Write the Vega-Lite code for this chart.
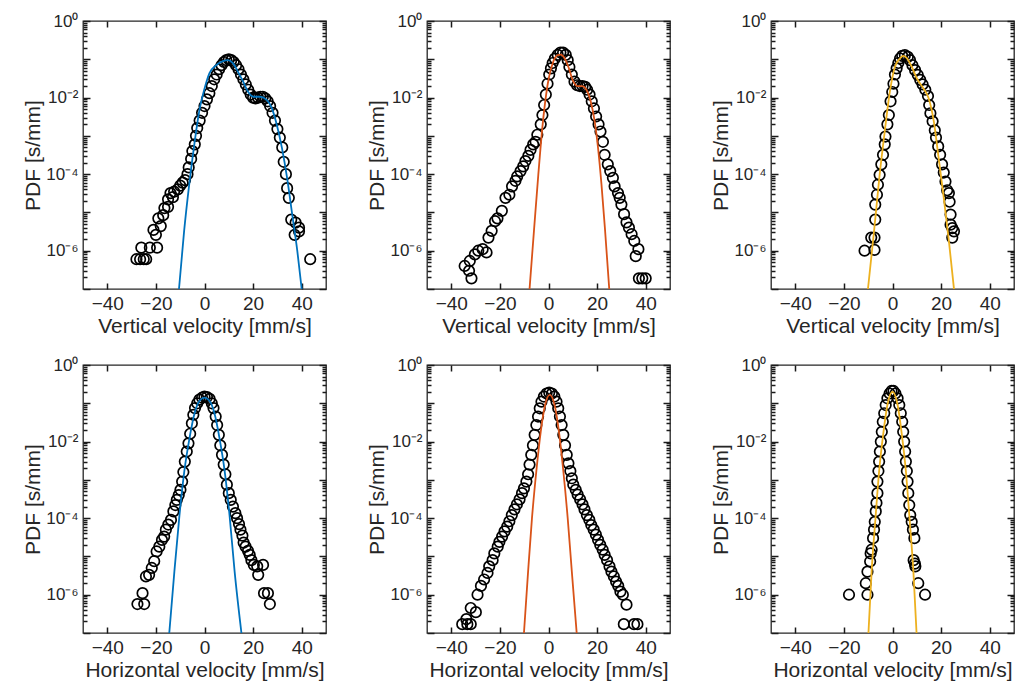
{
"$schema": "https://vega.github.io/schema/vega-lite/v6.json",
"padding": {"left": 22, "top": 11, "right": 3, "bottom": 5},
"config": {
  "font": "Liberation Sans",
  "view": {"stroke": "#262626", "strokeWidth": 1.3},
  "axis": {"labelFont": "Liberation Sans", "titleFont": "Liberation Sans", "labelFontSize": 19, "titleFontSize": 21, "titleFontWeight": "normal", "labelColor": "#262626", "titleColor": "#262626", "ticks": true, "tickColor": "#1a1a1a", "grid": false, "domain": false, "tickWidth": 1.5},
  "axisY": {"labelFontSize": 17}
},
"datasets": {
  "v1pts": [{"v":-28,"pdf":6e-7},{"v":-26.5,"pdf":6e-7},{"v":-25,"pdf":6e-7},{"v":-24,"pdf":6e-7},{"v":-26,"pdf":1.2e-6},{"v":-22.5,"pdf":1.2e-6},{"v":-19.5,"pdf":1.2e-6},{"v":-20,"pdf":2.6e-6},{"v":-21,"pdf":3.5e-6},{"v":-18,"pdf":4.4e-6},{"v":-19,"pdf":7e-6},{"v":-17,"pdf":8.5e-6},{"v":-16.5,"pdf":1.3e-5},{"v":-15,"pdf":1.4e-5},{"v":-15,"pdf":2.2e-5},{"v":-14,"pdf":3.2e-5},{"v":-13,"pdf":2.5e-5},{"v":-12.5,"pdf":3.5e-5},{"v":-11,"pdf":4e-5},{"v":-10,"pdf":5e-5},{"v":-9,"pdf":6e-5},{"v":-8,"pdf":7e-5},{"v":-7,"pdf":1e-4},{"v":-6.5,"pdf":1.5e-4},{"v":-5.5,"pdf":2.5e-4},{"v":-5,"pdf":4e-4},{"v":-4,"pdf":6e-4},{"v":-3.5,"pdf":1e-3},{"v":-3,"pdf":1.6e-3},{"v":-2,"pdf":2.5e-3},{"v":-1,"pdf":4e-3},{"v":0,"pdf":6e-3},{"v":1,"pdf":9e-3},{"v":2,"pdf":0.013},{"v":3,"pdf":0.02},{"v":4,"pdf":0.03},{"v":5,"pdf":0.04},{"v":6,"pdf":0.055},{"v":7,"pdf":0.07},{"v":8,"pdf":0.085},{"v":9,"pdf":0.095},{"v":10,"pdf":0.1},{"v":11,"pdf":0.095},{"v":12,"pdf":0.085},{"v":13,"pdf":0.07},{"v":14,"pdf":0.055},{"v":15,"pdf":0.04},{"v":16,"pdf":0.03},{"v":17,"pdf":0.022},{"v":18,"pdf":0.016},{"v":19,"pdf":0.012},{"v":20,"pdf":0.01},{"v":21,"pdf":0.0095},{"v":22,"pdf":0.01},{"v":23,"pdf":0.0105},{"v":24,"pdf":0.0105},{"v":25,"pdf":0.0095},{"v":26,"pdf":0.008},{"v":27,"pdf":0.006},{"v":28,"pdf":0.004},{"v":29,"pdf":0.0025},{"v":30,"pdf":0.0015},{"v":31,"pdf":9e-4},{"v":32,"pdf":5e-4},{"v":32.6,"pdf":2.1e-4},{"v":33.5,"pdf":1e-4},{"v":34,"pdf":4.3e-5},{"v":34.7,"pdf":2.4e-5},{"v":35.7,"pdf":6.5e-6},{"v":37.5,"pdf":5.4e-6},{"v":38.9,"pdf":4e-6},{"v":37.1,"pdf":2.6e-6},{"v":38.9,"pdf":3.2e-6},{"v":43.5,"pdf":6e-7}],
  "v1fit": [{"v":-10.5,"pdf":1e-7},{"v":-8.4,"pdf":3.2e-6},{"v":-6.3,"pdf":5.3e-5},{"v":-4.2,"pdf":5.9e-4},{"v":-2.2,"pdf":4.3e-3},{"v":0,"pdf":0.017},{"v":2,"pdf":0.043},{"v":4.8,"pdf":0.07},{"v":7.6,"pdf":0.09},{"v":9.7,"pdf":0.095},{"v":11.8,"pdf":0.078},{"v":13.8,"pdf":0.047},{"v":15.9,"pdf":0.026},{"v":18,"pdf":0.014},{"v":20.1,"pdf":0.0105},{"v":22.9,"pdf":0.0105},{"v":25.7,"pdf":0.0086},{"v":27.7,"pdf":0.0053},{"v":29.8,"pdf":0.0019},{"v":31.9,"pdf":4.7e-4},{"v":34,"pdf":7.9e-5},{"v":36.1,"pdf":8.8e-6},{"v":38.2,"pdf":9.8e-7},{"v":40,"pdf":1e-7}],
  "v2pts": [{"v":-34.5,"pdf":4e-7},{"v":-32.7,"pdf":3e-7},{"v":-31.7,"pdf":1.9e-7},{"v":-32.4,"pdf":5.4e-7},{"v":-30.3,"pdf":8e-7},{"v":-28.9,"pdf":1e-6},{"v":-27.1,"pdf":1.1e-6},{"v":-25.5,"pdf":9e-7},{"v":-24.7,"pdf":2.2e-6},{"v":-23.4,"pdf":3.3e-6},{"v":-22,"pdf":5.9e-6},{"v":-21,"pdf":7e-6},{"v":-19.2,"pdf":1.1e-5},{"v":-17.7,"pdf":2.4e-5},{"v":-16.1,"pdf":2.9e-5},{"v":-15,"pdf":4.8e-5},{"v":-13.6,"pdf":6.7e-5},{"v":-12.9,"pdf":8.7e-5},{"v":-11.5,"pdf":1.2e-4},{"v":-10.4,"pdf":1.6e-4},{"v":-9.5,"pdf":2.2e-4},{"v":-8.3,"pdf":3e-4},{"v":-7.4,"pdf":4.3e-4},{"v":-6.3,"pdf":6e-4},{"v":-5.3,"pdf":7e-4},{"v":-4.6,"pdf":1.07e-3},{"v":-3.2,"pdf":2e-3},{"v":-2.5,"pdf":3.5e-3},{"v":-1.8,"pdf":6.4e-3},{"v":-1.1,"pdf":0.012},{"v":-0.4,"pdf":0.023},{"v":0.3,"pdf":0.04},{"v":1,"pdf":0.058},{"v":1.7,"pdf":0.08},{"v":2.6,"pdf":0.104},{"v":3.8,"pdf":0.13},{"v":4.9,"pdf":0.15},{"v":6,"pdf":0.15},{"v":7.1,"pdf":0.13},{"v":7.9,"pdf":0.095},{"v":8.6,"pdf":0.063},{"v":9.6,"pdf":0.04},{"v":10.7,"pdf":0.026},{"v":11.8,"pdf":0.021},{"v":12.9,"pdf":0.02},{"v":14,"pdf":0.02},{"v":15.1,"pdf":0.019},{"v":15.9,"pdf":0.016},{"v":16.9,"pdf":0.012},{"v":17.8,"pdf":0.008},{"v":18.7,"pdf":0.0052},{"v":19.6,"pdf":0.0032},{"v":20.6,"pdf":0.002},{"v":21.4,"pdf":0.0013},{"v":22.4,"pdf":7e-4},{"v":23.1,"pdf":3.2e-4},{"v":24.4,"pdf":1.8e-4},{"v":25.4,"pdf":1.2e-4},{"v":26.5,"pdf":8e-5},{"v":27.2,"pdf":4.8e-5},{"v":28.6,"pdf":3.2e-5},{"v":29.3,"pdf":2.4e-5},{"v":30,"pdf":1.6e-5},{"v":31.1,"pdf":9e-6},{"v":32.1,"pdf":5.5e-6},{"v":33.1,"pdf":4e-6},{"v":34.2,"pdf":2.7e-6},{"v":35.3,"pdf":1.8e-6},{"v":37,"pdf":1.1e-6},{"v":35.9,"pdf":7.2e-7},{"v":37.2,"pdf":1.9e-7},{"v":38.6,"pdf":1.9e-7},{"v":40,"pdf":1.9e-7}],
  "v2fit": [{"v":-7.8,"pdf":1e-7},{"v":-6,"pdf":3.2e-6},{"v":-4.2,"pdf":9.6e-5},{"v":-2.4,"pdf":2e-3},{"v":-0.4,"pdf":0.021},{"v":1.7,"pdf":0.078},{"v":3.8,"pdf":0.128},{"v":5.1,"pdf":0.133},{"v":6.5,"pdf":0.11},{"v":8.2,"pdf":0.063},{"v":10,"pdf":0.028},{"v":11.8,"pdf":0.02},{"v":13.8,"pdf":0.02},{"v":15.6,"pdf":0.016},{"v":17.4,"pdf":0.0078},{"v":19,"pdf":0.0024},{"v":20.4,"pdf":4.8e-4},{"v":21.8,"pdf":5.4e-5},{"v":23.2,"pdf":4e-6},{"v":25,"pdf":1e-7}],
  "v3pts": [{"v":-11.5,"pdf":1e-6},{"v":-8.75,"pdf":2.2e-6},{"v":-7.4,"pdf":2.2e-6},{"v":-7.4,"pdf":1.05e-6},{"v":-7.1,"pdf":6.5e-6},{"v":-7.1,"pdf":1.6e-5},{"v":-6.4,"pdf":2.9e-5},{"v":-6,"pdf":5.3e-5},{"v":-5.3,"pdf":9.6e-5},{"v":-4.6,"pdf":1.8e-4},{"v":-3.9,"pdf":3.2e-4},{"v":-3.2,"pdf":6e-4},{"v":-2.9,"pdf":9.6e-4},{"v":-2.1,"pdf":2e-3},{"v":-1.5,"pdf":3.5e-3},{"v":-0.8,"pdf":8e-3},{"v":-0.1,"pdf":0.014},{"v":0.4,"pdf":0.023},{"v":1,"pdf":0.04},{"v":1.7,"pdf":0.058},{"v":2.4,"pdf":0.08},{"v":3.1,"pdf":0.105},{"v":4,"pdf":0.123},{"v":5.1,"pdf":0.128},{"v":6.3,"pdf":0.116},{"v":7.2,"pdf":0.095},{"v":8.2,"pdf":0.07},{"v":9.3,"pdf":0.052},{"v":10.4,"pdf":0.039},{"v":11.4,"pdf":0.029},{"v":12.4,"pdf":0.022},{"v":13.5,"pdf":0.016},{"v":14.6,"pdf":0.011},{"v":15.1,"pdf":6.4e-3},{"v":15.6,"pdf":3.9e-3},{"v":16.5,"pdf":2.4e-3},{"v":17.4,"pdf":1.4e-3},{"v":17.9,"pdf":9e-4},{"v":18.8,"pdf":5.3e-4},{"v":19.6,"pdf":3.2e-4},{"v":20.4,"pdf":1.8e-4},{"v":21.1,"pdf":1.1e-4},{"v":21.8,"pdf":6.4e-5},{"v":22.5,"pdf":3.8e-5},{"v":23.2,"pdf":3.2e-5},{"v":23.5,"pdf":1.9e-5},{"v":23.9,"pdf":8.8e-6},{"v":23.9,"pdf":4.8e-6},{"v":24.6,"pdf":3.9e-6},{"v":25.3,"pdf":3.2e-6},{"v":24.6,"pdf":2.2e-6}],
  "v3fit": [{"v":-10.1,"pdf":1e-7},{"v":-7.6,"pdf":3.2e-6},{"v":-5.3,"pdf":9.6e-5},{"v":-3.2,"pdf":1.3e-3},{"v":-1.1,"pdf":0.014},{"v":1,"pdf":0.064},{"v":3.1,"pdf":0.105},{"v":4.4,"pdf":0.123},{"v":5.8,"pdf":0.109},{"v":7.9,"pdf":0.064},{"v":10,"pdf":0.032},{"v":12.8,"pdf":0.017},{"v":14.9,"pdf":9.5e-3},{"v":17,"pdf":2.4e-3},{"v":19,"pdf":2.6e-4},{"v":21.1,"pdf":2.4e-5},{"v":23.2,"pdf":1.8e-6},{"v":25.3,"pdf":1e-7}],
  "h1pts": [{"v":-27.6,"pdf":5.7e-7},{"v":-24.8,"pdf":5.7e-7},{"v":-25.5,"pdf":1.1e-6},{"v":-24.1,"pdf":3e-6},{"v":-22.8,"pdf":3.3e-6},{"v":-21.7,"pdf":5e-6},{"v":-20.7,"pdf":7.5e-6},{"v":-19.7,"pdf":1.35e-5},{"v":-18.6,"pdf":1.8e-5},{"v":-17.5,"pdf":2.7e-5},{"v":-16.6,"pdf":3.3e-5},{"v":-15.9,"pdf":5e-5},{"v":-14.9,"pdf":6.8e-5},{"v":-13.8,"pdf":9e-5},{"v":-12.8,"pdf":1.5e-4},{"v":-12,"pdf":2.2e-4},{"v":-11.4,"pdf":3e-4},{"v":-10.6,"pdf":4e-4},{"v":-9.9,"pdf":5.5e-4},{"v":-9.2,"pdf":9e-4},{"v":-8.7,"pdf":1.6e-3},{"v":-8.1,"pdf":3e-3},{"v":-7.3,"pdf":5.5e-3},{"v":-6.6,"pdf":9e-3},{"v":-5.9,"pdf":0.016},{"v":-5.2,"pdf":0.03},{"v":-4.6,"pdf":0.05},{"v":-3.9,"pdf":0.075},{"v":-3,"pdf":0.1},{"v":-2.1,"pdf":0.125},{"v":-1,"pdf":0.14},{"v":0,"pdf":0.15},{"v":1,"pdf":0.145},{"v":2.1,"pdf":0.13},{"v":3,"pdf":0.1},{"v":3.7,"pdf":0.075},{"v":4.6,"pdf":0.045},{"v":5.2,"pdf":0.027},{"v":5.9,"pdf":0.015},{"v":6.5,"pdf":0.008},{"v":7.2,"pdf":0.0045},{"v":7.9,"pdf":0.0025},{"v":8.6,"pdf":1.4e-3},{"v":9.2,"pdf":7.5e-4},{"v":10,"pdf":4.5e-4},{"v":10.8,"pdf":3e-4},{"v":11.7,"pdf":2e-4},{"v":12.7,"pdf":1.35e-4},{"v":13.4,"pdf":1e-4},{"v":14.2,"pdf":7e-5},{"v":14.8,"pdf":5e-5},{"v":15.6,"pdf":3.5e-5},{"v":16.1,"pdf":2.3e-5},{"v":16.9,"pdf":1.8e-5},{"v":17.9,"pdf":1.4e-5},{"v":18.6,"pdf":1.1e-5},{"v":19.3,"pdf":8e-6},{"v":20.3,"pdf":6e-6},{"v":21.7,"pdf":5.5e-6},{"v":22.1,"pdf":3.3e-6},{"v":24.1,"pdf":6e-6},{"v":24.5,"pdf":1.1e-6},{"v":26.1,"pdf":1.1e-6},{"v":26.9,"pdf":5.7e-7}],
  "h1fit": [{"v":-14.5,"pdf":1e-7},{"v":-12.4,"pdf":4e-6},{"v":-10.3,"pdf":1.2e-4},{"v":-8.3,"pdf":1.7e-3},{"v":-6.2,"pdf":0.012},{"v":-4.1,"pdf":0.055},{"v":-2.1,"pdf":0.115},{"v":0,"pdf":0.14},{"v":2.1,"pdf":0.115},{"v":4.1,"pdf":0.055},{"v":6.2,"pdf":0.012},{"v":8.3,"pdf":1.7e-3},{"v":10.3,"pdf":1.2e-4},{"v":12.4,"pdf":4e-6},{"v":15.2,"pdf":1e-7}],
  "h2pts": [{"v":-35.5,"pdf":1.7e-7},{"v":-33.4,"pdf":1.7e-7},{"v":-32,"pdf":1.7e-7},{"v":-33.8,"pdf":2.3e-7},{"v":-32,"pdf":4.5e-7},{"v":-29.9,"pdf":3.5e-7},{"v":-29.2,"pdf":1e-6},{"v":-27.8,"pdf":1.7e-6},{"v":-26.5,"pdf":2.5e-6},{"v":-25.1,"pdf":3.7e-6},{"v":-24.4,"pdf":5.5e-6},{"v":-23,"pdf":8e-6},{"v":-22.3,"pdf":1.2e-5},{"v":-20.9,"pdf":1.8e-5},{"v":-20.2,"pdf":2.4e-5},{"v":-19.1,"pdf":3.3e-5},{"v":-18.1,"pdf":4.5e-5},{"v":-17,"pdf":6e-5},{"v":-16.1,"pdf":8.3e-5},{"v":-15.1,"pdf":1.2e-4},{"v":-14,"pdf":1.7e-4},{"v":-13,"pdf":2.3e-4},{"v":-11.9,"pdf":3.1e-4},{"v":-10.9,"pdf":4.5e-4},{"v":-10.1,"pdf":6e-4},{"v":-9.1,"pdf":9e-4},{"v":-8.4,"pdf":1.4e-3},{"v":-7.8,"pdf":2.5e-3},{"v":-7.1,"pdf":4.5e-3},{"v":-6.4,"pdf":8e-3},{"v":-5.7,"pdf":0.015},{"v":-5,"pdf":0.027},{"v":-4.3,"pdf":0.045},{"v":-3.6,"pdf":0.074},{"v":-2.9,"pdf":0.11},{"v":-1.9,"pdf":0.15},{"v":-0.8,"pdf":0.18},{"v":0.3,"pdf":0.19},{"v":1.4,"pdf":0.18},{"v":2.4,"pdf":0.15},{"v":3.3,"pdf":0.11},{"v":4,"pdf":0.074},{"v":4.7,"pdf":0.045},{"v":5.4,"pdf":0.027},{"v":6.1,"pdf":0.015},{"v":6.8,"pdf":8e-3},{"v":7.5,"pdf":4.5e-3},{"v":8.2,"pdf":2.7e-3},{"v":9,"pdf":1.7e-3},{"v":9.6,"pdf":1.1e-3},{"v":10.2,"pdf":7.5e-4},{"v":11.2,"pdf":5.5e-4},{"v":12,"pdf":4.1e-4},{"v":13,"pdf":3.1e-4},{"v":14,"pdf":2.3e-4},{"v":14.8,"pdf":1.7e-4},{"v":15.8,"pdf":1.2e-4},{"v":16.8,"pdf":9e-5},{"v":17.6,"pdf":6.6e-5},{"v":18.6,"pdf":5e-5},{"v":19.5,"pdf":3.7e-5},{"v":20.4,"pdf":2.7e-5},{"v":21.3,"pdf":2e-5},{"v":22.3,"pdf":1.5e-5},{"v":23.1,"pdf":1.1e-5},{"v":24.1,"pdf":8e-6},{"v":25.1,"pdf":5.5e-6},{"v":25.9,"pdf":4e-6},{"v":26.9,"pdf":3e-6},{"v":27.8,"pdf":2.2e-6},{"v":28.7,"pdf":1.7e-6},{"v":29.6,"pdf":1.2e-6},{"v":30.6,"pdf":1e-6},{"v":32.1,"pdf":5.5e-7},{"v":31,"pdf":1.7e-7},{"v":35.2,"pdf":1.7e-7},{"v":36.6,"pdf":1.7e-7}],
  "h2fit": [{"v":-10.1,"pdf":1e-7},{"v":-8.4,"pdf":4e-6},{"v":-6.8,"pdf":1e-4},{"v":-5,"pdf":1.7e-3},{"v":-3.2,"pdf":0.018},{"v":-1.4,"pdf":0.09},{"v":0.5,"pdf":0.165},{"v":2.5,"pdf":0.09},{"v":4.3,"pdf":0.018},{"v":6.1,"pdf":1.7e-3},{"v":7.9,"pdf":1e-4},{"v":9.6,"pdf":4e-6},{"v":11.6,"pdf":1e-7}],
  "h3pts": [{"v":-17.9,"pdf":1e-6},{"v":-11,"pdf":2e-6},{"v":-10.3,"pdf":1e-6},{"v":-10.3,"pdf":4e-6},{"v":-9.2,"pdf":7.4e-6},{"v":-9,"pdf":1.2e-5},{"v":-8.6,"pdf":1.5e-5},{"v":-8,"pdf":3e-5},{"v":-7.6,"pdf":5e-5},{"v":-7.3,"pdf":8e-5},{"v":-6.9,"pdf":1.5e-4},{"v":-6.6,"pdf":2.5e-4},{"v":-6.2,"pdf":4.5e-4},{"v":-6.2,"pdf":9e-4},{"v":-5.8,"pdf":1.7e-3},{"v":-5.5,"pdf":3e-3},{"v":-5.2,"pdf":5.5e-3},{"v":-4.8,"pdf":0.01},{"v":-4.4,"pdf":0.018},{"v":-4,"pdf":0.033},{"v":-3.4,"pdf":0.055},{"v":-2.8,"pdf":0.09},{"v":-2.1,"pdf":0.135},{"v":-1.2,"pdf":0.18},{"v":-0.4,"pdf":0.21},{"v":0.4,"pdf":0.21},{"v":1.2,"pdf":0.18},{"v":2.1,"pdf":0.135},{"v":2.8,"pdf":0.09},{"v":3.4,"pdf":0.055},{"v":4,"pdf":0.033},{"v":4.4,"pdf":0.018},{"v":4.8,"pdf":0.01},{"v":5.2,"pdf":5.5e-3},{"v":5.5,"pdf":3e-3},{"v":5.9,"pdf":1.7e-3},{"v":6.2,"pdf":9e-4},{"v":6.5,"pdf":4.5e-4},{"v":6.9,"pdf":2.2e-4},{"v":7.3,"pdf":1.2e-4},{"v":7.9,"pdf":8e-5},{"v":8.4,"pdf":5e-5},{"v":9,"pdf":3e-5},{"v":8.7,"pdf":8e-6},{"v":9.2,"pdf":6.5e-6},{"v":9.4,"pdf":5.5e-6},{"v":10.6,"pdf":2e-6},{"v":13.4,"pdf":1e-6}],
  "h3fit": [{"v":-9.9,"pdf":1e-7},{"v":-8.6,"pdf":4e-6},{"v":-7,"pdf":1e-4},{"v":-5.5,"pdf":1.7e-3},{"v":-3.7,"pdf":0.018},{"v":-2.1,"pdf":0.09},{"v":0,"pdf":0.2},{"v":2.1,"pdf":0.09},{"v":3.7,"pdf":0.018},{"v":5.5,"pdf":1.7e-3},{"v":7,"pdf":1e-4},{"v":8.6,"pdf":4e-6},{"v":9.9,"pdf":1e-7}]
},
"spacing": 18,
"vconcat": [
 {"spacing": 38, "hconcat": [
  {"width": 243, "height": 268, "resolve": {"axis": {"x": "independent", "y": "independent"}}, "layer": [
   {"data": {"name": "v1pts"}, "mark": {"type": "point", "shape": "circle", "filled": false, "stroke": "#000000", "strokeWidth": 1.7, "size": 110, "opacity": 1, "clip": true},
    "encoding": {"x": {"field": "v", "type": "quantitative", "scale": {"domain": [-50, 50], "nice": false, "zero": false}, "axis": {"orient": "bottom", "values": [-40, -20, 0, 20, 40], "tickSize": -6, "labelPadding": 11, "title": "Vertical velocity [mm/s]", "titlePadding": 2}},
     "y": {"field": "pdf", "type": "quantitative", "scale": {"type": "log", "domain": [1e-7, 1], "nice": false}, "axis": {"orient": "left", "values": [1e-7,1e-6,1e-5,1e-4,0.001,0.01,0.1,1], "tickSize": -7, "labelExpr": "datum.value == 1 ? '10⁰' : datum.value == 0.01 ? '10⁻²' : datum.value == 0.0001 ? '10⁻⁴' : datum.value == 0.000001 ? '10⁻⁶' : ''", "labelOverlap": false, "labelPadding": 12, "title": "PDF [s/mm]", "titlePadding": 2}}}},
   {"data": {"name": "v1fit"}, "mark": {"type": "line", "color": "#0072BD", "strokeWidth": 1.8, "interpolate": "monotone", "clip": true},
    "encoding": {"x": {"field": "v", "type": "quantitative", "axis": {"orient": "top", "values": [-40, -20, 0, 20, 40], "tickSize": -6, "labels": false, "title": null}},
     "y": {"field": "pdf", "type": "quantitative", "axis": {"orient": "right", "values": [1e-7,1e-6,1e-5,1e-4,0.001,0.01,0.1,1], "tickSize": -7, "labels": false, "title": null}}}},
   {"data": {"name": "v1fit"}, "mark": {"type": "line", "opacity": 0, "clip": true},
    "encoding": {"x": {"field": "v", "type": "quantitative", "axis": null},
     "y": {"field": "pdf", "type": "quantitative", "axis": {"orient": "left", "values": [2e-7,3e-7,4e-7,5e-7,6e-7,7e-7,8e-7,9e-7,2e-6,3e-6,4e-6,5e-6,6e-6,7e-6,8e-6,9e-6,2e-5,3e-5,4e-5,5e-5,6e-5,7e-5,8e-5,9e-5,2e-4,3e-4,4e-4,5e-4,6e-4,7e-4,8e-4,9e-4,0.002,0.003,0.004,0.005,0.006,0.007,0.008,0.009,0.02,0.03,0.04,0.05,0.06,0.07,0.08,0.09,0.2,0.3,0.4,0.5,0.6,0.7,0.8,0.9], "tickSize": -4, "labels": false, "title": null}}}},
   {"data": {"name": "v1fit"}, "mark": {"type": "line", "opacity": 0, "clip": true},
    "encoding": {"x": {"field": "v", "type": "quantitative", "axis": null},
     "y": {"field": "pdf", "type": "quantitative", "axis": {"orient": "right", "values": [2e-7,3e-7,4e-7,5e-7,6e-7,7e-7,8e-7,9e-7,2e-6,3e-6,4e-6,5e-6,6e-6,7e-6,8e-6,9e-6,2e-5,3e-5,4e-5,5e-5,6e-5,7e-5,8e-5,9e-5,2e-4,3e-4,4e-4,5e-4,6e-4,7e-4,8e-4,9e-4,0.002,0.003,0.004,0.005,0.006,0.007,0.008,0.009,0.02,0.03,0.04,0.05,0.06,0.07,0.08,0.09,0.2,0.3,0.4,0.5,0.6,0.7,0.8,0.9], "tickSize": -4, "labels": false, "title": null}}}}
  ]},
  {"width": 243, "height": 268, "resolve": {"axis": {"x": "independent", "y": "independent"}}, "layer": [
   {"data": {"name": "v2pts"}, "mark": {"type": "point", "shape": "circle", "filled": false, "stroke": "#000000", "strokeWidth": 1.7, "size": 110, "opacity": 1, "clip": true},
    "encoding": {"x": {"field": "v", "type": "quantitative", "scale": {"domain": [-50, 50], "nice": false, "zero": false}, "axis": {"orient": "bottom", "values": [-40, -20, 0, 20, 40], "tickSize": -6, "labelPadding": 11, "title": "Vertical velocity [mm/s]", "titlePadding": 2}},
     "y": {"field": "pdf", "type": "quantitative", "scale": {"type": "log", "domain": [1e-7, 1], "nice": false}, "axis": {"orient": "left", "values": [1e-7,1e-6,1e-5,1e-4,0.001,0.01,0.1,1], "tickSize": -7, "labelExpr": "datum.value == 1 ? '10⁰' : datum.value == 0.01 ? '10⁻²' : datum.value == 0.0001 ? '10⁻⁴' : datum.value == 0.000001 ? '10⁻⁶' : ''", "labelOverlap": false, "labelPadding": 12, "title": "PDF [s/mm]", "titlePadding": 2}}}},
   {"data": {"name": "v2fit"}, "mark": {"type": "line", "color": "#D95319", "strokeWidth": 1.8, "interpolate": "monotone", "clip": true},
    "encoding": {"x": {"field": "v", "type": "quantitative", "axis": {"orient": "top", "values": [-40, -20, 0, 20, 40], "tickSize": -6, "labels": false, "title": null}},
     "y": {"field": "pdf", "type": "quantitative", "axis": {"orient": "right", "values": [1e-7,1e-6,1e-5,1e-4,0.001,0.01,0.1,1], "tickSize": -7, "labels": false, "title": null}}}},
   {"data": {"name": "v2fit"}, "mark": {"type": "line", "opacity": 0, "clip": true},
    "encoding": {"x": {"field": "v", "type": "quantitative", "axis": null},
     "y": {"field": "pdf", "type": "quantitative", "axis": {"orient": "left", "values": [2e-7,3e-7,4e-7,5e-7,6e-7,7e-7,8e-7,9e-7,2e-6,3e-6,4e-6,5e-6,6e-6,7e-6,8e-6,9e-6,2e-5,3e-5,4e-5,5e-5,6e-5,7e-5,8e-5,9e-5,2e-4,3e-4,4e-4,5e-4,6e-4,7e-4,8e-4,9e-4,0.002,0.003,0.004,0.005,0.006,0.007,0.008,0.009,0.02,0.03,0.04,0.05,0.06,0.07,0.08,0.09,0.2,0.3,0.4,0.5,0.6,0.7,0.8,0.9], "tickSize": -4, "labels": false, "title": null}}}},
   {"data": {"name": "v2fit"}, "mark": {"type": "line", "opacity": 0, "clip": true},
    "encoding": {"x": {"field": "v", "type": "quantitative", "axis": null},
     "y": {"field": "pdf", "type": "quantitative", "axis": {"orient": "right", "values": [2e-7,3e-7,4e-7,5e-7,6e-7,7e-7,8e-7,9e-7,2e-6,3e-6,4e-6,5e-6,6e-6,7e-6,8e-6,9e-6,2e-5,3e-5,4e-5,5e-5,6e-5,7e-5,8e-5,9e-5,2e-4,3e-4,4e-4,5e-4,6e-4,7e-4,8e-4,9e-4,0.002,0.003,0.004,0.005,0.006,0.007,0.008,0.009,0.02,0.03,0.04,0.05,0.06,0.07,0.08,0.09,0.2,0.3,0.4,0.5,0.6,0.7,0.8,0.9], "tickSize": -4, "labels": false, "title": null}}}}
  ]},
  {"width": 243, "height": 268, "resolve": {"axis": {"x": "independent", "y": "independent"}}, "layer": [
   {"data": {"name": "v3pts"}, "mark": {"type": "point", "shape": "circle", "filled": false, "stroke": "#000000", "strokeWidth": 1.7, "size": 110, "opacity": 1, "clip": true},
    "encoding": {"x": {"field": "v", "type": "quantitative", "scale": {"domain": [-50, 50], "nice": false, "zero": false}, "axis": {"orient": "bottom", "values": [-40, -20, 0, 20, 40], "tickSize": -6, "labelPadding": 11, "title": "Vertical velocity [mm/s]", "titlePadding": 2}},
     "y": {"field": "pdf", "type": "quantitative", "scale": {"type": "log", "domain": [1e-7, 1], "nice": false}, "axis": {"orient": "left", "values": [1e-7,1e-6,1e-5,1e-4,0.001,0.01,0.1,1], "tickSize": -7, "labelExpr": "datum.value == 1 ? '10⁰' : datum.value == 0.01 ? '10⁻²' : datum.value == 0.0001 ? '10⁻⁴' : datum.value == 0.000001 ? '10⁻⁶' : ''", "labelOverlap": false, "labelPadding": 12, "title": "PDF [s/mm]", "titlePadding": 2}}}},
   {"data": {"name": "v3fit"}, "mark": {"type": "line", "color": "#EDB120", "strokeWidth": 1.8, "interpolate": "monotone", "clip": true},
    "encoding": {"x": {"field": "v", "type": "quantitative", "axis": {"orient": "top", "values": [-40, -20, 0, 20, 40], "tickSize": -6, "labels": false, "title": null}},
     "y": {"field": "pdf", "type": "quantitative", "axis": {"orient": "right", "values": [1e-7,1e-6,1e-5,1e-4,0.001,0.01,0.1,1], "tickSize": -7, "labels": false, "title": null}}}},
   {"data": {"name": "v3fit"}, "mark": {"type": "line", "opacity": 0, "clip": true},
    "encoding": {"x": {"field": "v", "type": "quantitative", "axis": null},
     "y": {"field": "pdf", "type": "quantitative", "axis": {"orient": "left", "values": [2e-7,3e-7,4e-7,5e-7,6e-7,7e-7,8e-7,9e-7,2e-6,3e-6,4e-6,5e-6,6e-6,7e-6,8e-6,9e-6,2e-5,3e-5,4e-5,5e-5,6e-5,7e-5,8e-5,9e-5,2e-4,3e-4,4e-4,5e-4,6e-4,7e-4,8e-4,9e-4,0.002,0.003,0.004,0.005,0.006,0.007,0.008,0.009,0.02,0.03,0.04,0.05,0.06,0.07,0.08,0.09,0.2,0.3,0.4,0.5,0.6,0.7,0.8,0.9], "tickSize": -4, "labels": false, "title": null}}}},
   {"data": {"name": "v3fit"}, "mark": {"type": "line", "opacity": 0, "clip": true},
    "encoding": {"x": {"field": "v", "type": "quantitative", "axis": null},
     "y": {"field": "pdf", "type": "quantitative", "axis": {"orient": "right", "values": [2e-7,3e-7,4e-7,5e-7,6e-7,7e-7,8e-7,9e-7,2e-6,3e-6,4e-6,5e-6,6e-6,7e-6,8e-6,9e-6,2e-5,3e-5,4e-5,5e-5,6e-5,7e-5,8e-5,9e-5,2e-4,3e-4,4e-4,5e-4,6e-4,7e-4,8e-4,9e-4,0.002,0.003,0.004,0.005,0.006,0.007,0.008,0.009,0.02,0.03,0.04,0.05,0.06,0.07,0.08,0.09,0.2,0.3,0.4,0.5,0.6,0.7,0.8,0.9], "tickSize": -4, "labels": false, "title": null}}}}
  ]}
 ]},
 {"spacing": 38, "hconcat": [
  {"width": 243, "height": 268, "resolve": {"axis": {"x": "independent", "y": "independent"}}, "layer": [
   {"data": {"name": "h1pts"}, "mark": {"type": "point", "shape": "circle", "filled": false, "stroke": "#000000", "strokeWidth": 1.7, "size": 110, "opacity": 1, "clip": true},
    "encoding": {"x": {"field": "v", "type": "quantitative", "scale": {"domain": [-50, 50], "nice": false, "zero": false}, "axis": {"orient": "bottom", "values": [-40, -20, 0, 20, 40], "tickSize": -6, "labelPadding": 11, "title": "Horizontal velocity [mm/s]", "titlePadding": 2}},
     "y": {"field": "pdf", "type": "quantitative", "scale": {"type": "log", "domain": [1e-7, 1], "nice": false}, "axis": {"orient": "left", "values": [1e-7,1e-6,1e-5,1e-4,0.001,0.01,0.1,1], "tickSize": -7, "labelExpr": "datum.value == 1 ? '10⁰' : datum.value == 0.01 ? '10⁻²' : datum.value == 0.0001 ? '10⁻⁴' : datum.value == 0.000001 ? '10⁻⁶' : ''", "labelOverlap": false, "labelPadding": 12, "title": "PDF [s/mm]", "titlePadding": 2}}}},
   {"data": {"name": "h1fit"}, "mark": {"type": "line", "color": "#0072BD", "strokeWidth": 1.8, "interpolate": "monotone", "clip": true},
    "encoding": {"x": {"field": "v", "type": "quantitative", "axis": {"orient": "top", "values": [-40, -20, 0, 20, 40], "tickSize": -6, "labels": false, "title": null}},
     "y": {"field": "pdf", "type": "quantitative", "axis": {"orient": "right", "values": [1e-7,1e-6,1e-5,1e-4,0.001,0.01,0.1,1], "tickSize": -7, "labels": false, "title": null}}}},
   {"data": {"name": "h1fit"}, "mark": {"type": "line", "opacity": 0, "clip": true},
    "encoding": {"x": {"field": "v", "type": "quantitative", "axis": null},
     "y": {"field": "pdf", "type": "quantitative", "axis": {"orient": "left", "values": [2e-7,3e-7,4e-7,5e-7,6e-7,7e-7,8e-7,9e-7,2e-6,3e-6,4e-6,5e-6,6e-6,7e-6,8e-6,9e-6,2e-5,3e-5,4e-5,5e-5,6e-5,7e-5,8e-5,9e-5,2e-4,3e-4,4e-4,5e-4,6e-4,7e-4,8e-4,9e-4,0.002,0.003,0.004,0.005,0.006,0.007,0.008,0.009,0.02,0.03,0.04,0.05,0.06,0.07,0.08,0.09,0.2,0.3,0.4,0.5,0.6,0.7,0.8,0.9], "tickSize": -4, "labels": false, "title": null}}}},
   {"data": {"name": "h1fit"}, "mark": {"type": "line", "opacity": 0, "clip": true},
    "encoding": {"x": {"field": "v", "type": "quantitative", "axis": null},
     "y": {"field": "pdf", "type": "quantitative", "axis": {"orient": "right", "values": [2e-7,3e-7,4e-7,5e-7,6e-7,7e-7,8e-7,9e-7,2e-6,3e-6,4e-6,5e-6,6e-6,7e-6,8e-6,9e-6,2e-5,3e-5,4e-5,5e-5,6e-5,7e-5,8e-5,9e-5,2e-4,3e-4,4e-4,5e-4,6e-4,7e-4,8e-4,9e-4,0.002,0.003,0.004,0.005,0.006,0.007,0.008,0.009,0.02,0.03,0.04,0.05,0.06,0.07,0.08,0.09,0.2,0.3,0.4,0.5,0.6,0.7,0.8,0.9], "tickSize": -4, "labels": false, "title": null}}}}
  ]},
  {"width": 243, "height": 268, "resolve": {"axis": {"x": "independent", "y": "independent"}}, "layer": [
   {"data": {"name": "h2pts"}, "mark": {"type": "point", "shape": "circle", "filled": false, "stroke": "#000000", "strokeWidth": 1.7, "size": 110, "opacity": 1, "clip": true},
    "encoding": {"x": {"field": "v", "type": "quantitative", "scale": {"domain": [-50, 50], "nice": false, "zero": false}, "axis": {"orient": "bottom", "values": [-40, -20, 0, 20, 40], "tickSize": -6, "labelPadding": 11, "title": "Horizontal velocity [mm/s]", "titlePadding": 2}},
     "y": {"field": "pdf", "type": "quantitative", "scale": {"type": "log", "domain": [1e-7, 1], "nice": false}, "axis": {"orient": "left", "values": [1e-7,1e-6,1e-5,1e-4,0.001,0.01,0.1,1], "tickSize": -7, "labelExpr": "datum.value == 1 ? '10⁰' : datum.value == 0.01 ? '10⁻²' : datum.value == 0.0001 ? '10⁻⁴' : datum.value == 0.000001 ? '10⁻⁶' : ''", "labelOverlap": false, "labelPadding": 12, "title": "PDF [s/mm]", "titlePadding": 2}}}},
   {"data": {"name": "h2fit"}, "mark": {"type": "line", "color": "#D95319", "strokeWidth": 1.8, "interpolate": "monotone", "clip": true},
    "encoding": {"x": {"field": "v", "type": "quantitative", "axis": {"orient": "top", "values": [-40, -20, 0, 20, 40], "tickSize": -6, "labels": false, "title": null}},
     "y": {"field": "pdf", "type": "quantitative", "axis": {"orient": "right", "values": [1e-7,1e-6,1e-5,1e-4,0.001,0.01,0.1,1], "tickSize": -7, "labels": false, "title": null}}}},
   {"data": {"name": "h2fit"}, "mark": {"type": "line", "opacity": 0, "clip": true},
    "encoding": {"x": {"field": "v", "type": "quantitative", "axis": null},
     "y": {"field": "pdf", "type": "quantitative", "axis": {"orient": "left", "values": [2e-7,3e-7,4e-7,5e-7,6e-7,7e-7,8e-7,9e-7,2e-6,3e-6,4e-6,5e-6,6e-6,7e-6,8e-6,9e-6,2e-5,3e-5,4e-5,5e-5,6e-5,7e-5,8e-5,9e-5,2e-4,3e-4,4e-4,5e-4,6e-4,7e-4,8e-4,9e-4,0.002,0.003,0.004,0.005,0.006,0.007,0.008,0.009,0.02,0.03,0.04,0.05,0.06,0.07,0.08,0.09,0.2,0.3,0.4,0.5,0.6,0.7,0.8,0.9], "tickSize": -4, "labels": false, "title": null}}}},
   {"data": {"name": "h2fit"}, "mark": {"type": "line", "opacity": 0, "clip": true},
    "encoding": {"x": {"field": "v", "type": "quantitative", "axis": null},
     "y": {"field": "pdf", "type": "quantitative", "axis": {"orient": "right", "values": [2e-7,3e-7,4e-7,5e-7,6e-7,7e-7,8e-7,9e-7,2e-6,3e-6,4e-6,5e-6,6e-6,7e-6,8e-6,9e-6,2e-5,3e-5,4e-5,5e-5,6e-5,7e-5,8e-5,9e-5,2e-4,3e-4,4e-4,5e-4,6e-4,7e-4,8e-4,9e-4,0.002,0.003,0.004,0.005,0.006,0.007,0.008,0.009,0.02,0.03,0.04,0.05,0.06,0.07,0.08,0.09,0.2,0.3,0.4,0.5,0.6,0.7,0.8,0.9], "tickSize": -4, "labels": false, "title": null}}}}
  ]},
  {"width": 243, "height": 268, "resolve": {"axis": {"x": "independent", "y": "independent"}}, "layer": [
   {"data": {"name": "h3pts"}, "mark": {"type": "point", "shape": "circle", "filled": false, "stroke": "#000000", "strokeWidth": 1.7, "size": 110, "opacity": 1, "clip": true},
    "encoding": {"x": {"field": "v", "type": "quantitative", "scale": {"domain": [-50, 50], "nice": false, "zero": false}, "axis": {"orient": "bottom", "values": [-40, -20, 0, 20, 40], "tickSize": -6, "labelPadding": 11, "title": "Horizontal velocity [mm/s]", "titlePadding": 2}},
     "y": {"field": "pdf", "type": "quantitative", "scale": {"type": "log", "domain": [1e-7, 1], "nice": false}, "axis": {"orient": "left", "values": [1e-7,1e-6,1e-5,1e-4,0.001,0.01,0.1,1], "tickSize": -7, "labelExpr": "datum.value == 1 ? '10⁰' : datum.value == 0.01 ? '10⁻²' : datum.value == 0.0001 ? '10⁻⁴' : datum.value == 0.000001 ? '10⁻⁶' : ''", "labelOverlap": false, "labelPadding": 12, "title": "PDF [s/mm]", "titlePadding": 2}}}},
   {"data": {"name": "h3fit"}, "mark": {"type": "line", "color": "#EDB120", "strokeWidth": 1.8, "interpolate": "monotone", "clip": true},
    "encoding": {"x": {"field": "v", "type": "quantitative", "axis": {"orient": "top", "values": [-40, -20, 0, 20, 40], "tickSize": -6, "labels": false, "title": null}},
     "y": {"field": "pdf", "type": "quantitative", "axis": {"orient": "right", "values": [1e-7,1e-6,1e-5,1e-4,0.001,0.01,0.1,1], "tickSize": -7, "labels": false, "title": null}}}},
   {"data": {"name": "h3fit"}, "mark": {"type": "line", "opacity": 0, "clip": true},
    "encoding": {"x": {"field": "v", "type": "quantitative", "axis": null},
     "y": {"field": "pdf", "type": "quantitative", "axis": {"orient": "left", "values": [2e-7,3e-7,4e-7,5e-7,6e-7,7e-7,8e-7,9e-7,2e-6,3e-6,4e-6,5e-6,6e-6,7e-6,8e-6,9e-6,2e-5,3e-5,4e-5,5e-5,6e-5,7e-5,8e-5,9e-5,2e-4,3e-4,4e-4,5e-4,6e-4,7e-4,8e-4,9e-4,0.002,0.003,0.004,0.005,0.006,0.007,0.008,0.009,0.02,0.03,0.04,0.05,0.06,0.07,0.08,0.09,0.2,0.3,0.4,0.5,0.6,0.7,0.8,0.9], "tickSize": -4, "labels": false, "title": null}}}},
   {"data": {"name": "h3fit"}, "mark": {"type": "line", "opacity": 0, "clip": true},
    "encoding": {"x": {"field": "v", "type": "quantitative", "axis": null},
     "y": {"field": "pdf", "type": "quantitative", "axis": {"orient": "right", "values": [2e-7,3e-7,4e-7,5e-7,6e-7,7e-7,8e-7,9e-7,2e-6,3e-6,4e-6,5e-6,6e-6,7e-6,8e-6,9e-6,2e-5,3e-5,4e-5,5e-5,6e-5,7e-5,8e-5,9e-5,2e-4,3e-4,4e-4,5e-4,6e-4,7e-4,8e-4,9e-4,0.002,0.003,0.004,0.005,0.006,0.007,0.008,0.009,0.02,0.03,0.04,0.05,0.06,0.07,0.08,0.09,0.2,0.3,0.4,0.5,0.6,0.7,0.8,0.9], "tickSize": -4, "labels": false, "title": null}}}}
  ]}
 ]}
]
}
